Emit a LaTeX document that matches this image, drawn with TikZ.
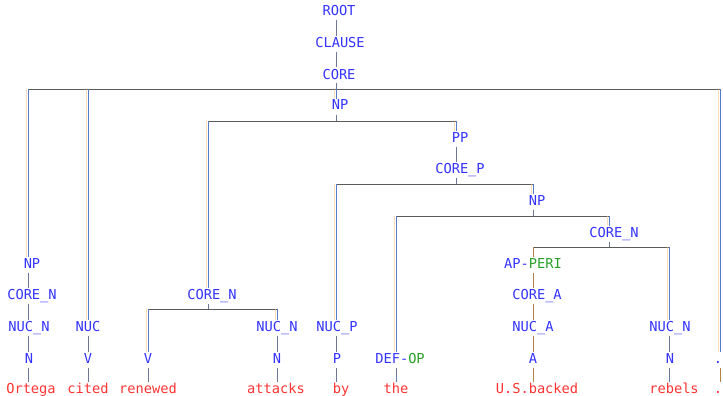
\documentclass[tikz,border=0pt]{standalone}
\usepackage{fontspec}
\newfontfamily\monolab{DejaVu Sans Mono}
\definecolor{lblue}{RGB}{51,51,255}
\definecolor{lgreen}{RGB}{40,160,40}
\definecolor{wred}{RGB}{255,51,51}
\definecolor{vblue}{RGB}{85,125,200}
\definecolor{vorange}{RGB}{250,200,140}
\definecolor{hgrey}{RGB}{90,90,90}
\definecolor{sgrey}{RGB}{110,120,150}
\definecolor{brownl}{RGB}{180,130,70}
\tikzset{
  lab/.style={font=\monolab\fontsize{13.7}{16}\selectfont, text=lblue, inner sep=0pt,
    text height=10pt, text depth=3pt, outer sep=1.5pt},
  word/.style={lab, text=wred},
  hbar/.style={draw=hgrey, line width=0.9pt},
  vline/.style={draw=vblue, line width=1pt,
    preaction={draw=vorange, draw opacity=0.6, line width=0.4pt, transform canvas={xshift=-1.4pt}}},
  link/.style={draw=sgrey, line width=0.9pt},
  blink/.style={draw=brownl, line width=0.9pt},
}
\begin{document}
\begin{tikzpicture}[x=1pt,y=-1pt]
\useasboundingbox (0,0) rectangle (723,396);
% column coordinates
\coordinate (cA) at (28,0);
\coordinate (cB) at (88,0);
\coordinate (cD) at (148,0);
\coordinate (cC) at (208,0);
\coordinate (cE) at (277,0);
\coordinate (cF) at (336,0);
\coordinate (cG) at (396,0);
\coordinate (cP) at (456,0);
\coordinate (cH) at (533,0);
\coordinate (cN) at (609,0);
\coordinate (cI) at (669,0);
\coordinate (cJ) at (720,0);
% bar coordinates
\coordinate (b1) at (336,89);
\coordinate (b2) at (336,121);
\coordinate (b3) at (456,184);
\coordinate (b4) at (533,216);
\coordinate (b5) at (609,247);
\coordinate (b6) at (208,309);
% nodes
\node[lab] (root) at (339,12.5) {ROOT};
\node[lab] (clause) at (340,44.5) {CLAUSE};
\node[lab] (core) at (339,75.5) {CORE};
\node[lab] (np1) at (340,106.5) {NP};
\node[lab] (pp) at (460,138.5) {PP};
\node[lab] (corep) at (460,169.5) {CORE\_P};
\node[lab] (np2) at (537,201.5) {NP};
\node[lab] (coren2) at (614,233.5) {CORE\_N};
\node[lab] (npA) at (32,264.5) {NP};
\node[lab] (apperi) at (533,264.5) {AP-\textcolor{lgreen}{PERI}};
\node[lab] (corenA) at (32,295.5) {CORE\_N};
\node[lab] (corenC) at (212,295.5) {CORE\_N};
\node[lab] (corea) at (537,295.5) {CORE\_A};
\node[lab] (nucnA) at (29,327.5) {NUC\_N};
\node[lab] (nuc) at (88,327.5) {NUC};
\node[lab] (nucnE) at (277,327.5) {NUC\_N};
\node[lab] (nucp) at (337,327.5) {NUC\_P};
\node[lab] (nuca) at (533,327.5) {NUC\_A};
\node[lab] (nucnI) at (670,327.5) {NUC\_N};
\node[lab] (nA) at (29,359.5) {N};
\node[lab] (vB) at (88,359.5) {V};
\node[lab] (vD) at (148,359.5) {V};
\node[lab] (nE) at (277,359.5) {N};
\node[lab] (pF) at (337,359.5) {P};
\node[lab] (defop) at (400,359.5) {DEF-\textcolor{lgreen}{OP}};
\node[lab] (aH) at (533,359.5) {A};
\node[lab] (nI) at (670,359.5) {N};
\node[lab] (dotJ) at (718,359.5) {.};
\node[word] (wA) at (31,389.5) {Ortega};
\node[word] (wB) at (88,389.5) {cited};
\node[word] (wD) at (148,389.5) {renewed};
\node[word] (wE) at (276,389.5) {attacks};
\node[word] (wF) at (341,389.5) {by};
\node[word] (wG) at (396,389.5) {the};
\node[word] (wH) at (537,389.5) {U.S.backed};
\node[word] (wI) at (674,389.5) {rebels};
\node[word] (wJ) at (718,389.5) {.};
% top chain
\draw[link] (root.south -| cF) -- (clause.north -| cF);
\draw[link] (clause.south -| cF) -- (core.north -| cF);
\draw[link] (core.south -| cF) -- (b1);
\draw[hbar] (b1 -| cA) -- (b1 -| cJ);
\draw[vline] (b1 -| cA) -- (npA.north -| cA);
\draw[vline] (b1 -| cB) -- (nuc.north -| cB);
\draw[vline] (b1) -- (np1.north -| cF);
\draw[vline] (b1 -| cJ) -- (dotJ.north -| cJ);
% Ortega
\draw[link] (npA.south -| cA) -- (corenA.north -| cA);
\draw[link] (corenA.south -| cA) -- (nucnA.north -| cA);
\draw[link] (nucnA.south -| cA) -- (nA.north -| cA);
\draw[link] (nA.south -| cA) -- (wA.north -| cA);
% cited
\draw[link] (nuc.south -| cB) -- (vB.north -| cB);
\draw[link] (vB.south -| cB) -- (wB.north -| cB);
% NP
\draw[link] (np1.south -| cF) -- (b2);
\draw[hbar] (b2 -| cC) -- (b2 -| cP);
\draw[vline] (b2 -| cC) -- (corenC.north -| cC);
\draw[vline] (b2 -| cP) -- (pp.north -| cP);
% CORE_N left
\draw[link] (corenC.south -| cC) -- (b6);
\draw[hbar] (b6 -| cD) -- (b6 -| cE);
\draw[vline] (b6 -| cD) -- (vD.north -| cD);
\draw[vline] (b6 -| cE) -- (nucnE.north -| cE);
\draw[link] (vD.south -| cD) -- (wD.north -| cD);
\draw[link] (nucnE.south -| cE) -- (nE.north -| cE);
\draw[link] (nE.south -| cE) -- (wE.north -| cE);
% PP
\draw[link] (pp.south -| cP) -- (corep.north -| cP);
\draw[link] (corep.south -| cP) -- (b3);
\draw[hbar] (b3 -| cF) -- (b3 -| cH);
\draw[vline] (b3 -| cF) -- (nucp.north -| cF);
\draw[vline] (b3 -| cH) -- (np2.north -| cH);
\draw[link] (nucp.south -| cF) -- (pF.north -| cF);
\draw[link] (pF.south -| cF) -- (wF.north -| cF);
% NP2
\draw[link] (np2.south -| cH) -- (b4);
\draw[hbar] (b4 -| cG) -- (b4 -| cN);
\draw[vline] (b4 -| cG) -- (defop.north -| cG);
\draw[vline] (b4 -| cN) -- (coren2.north -| cN);
\draw[link] (defop.south -| cG) -- (wG.north -| cG);
% CORE_N right
\draw[link] (coren2.south -| cN) -- (b5);
\draw[hbar] (b5 -| cH) -- (b5 -| cI);
\draw[blink] (b5 -| cH) -- (apperi.north -| cH);
\draw[vline] (b5 -| cI) -- (nucnI.north -| cI);
\draw[blink] (apperi.south -| cH) -- (corea.north -| cH);
\draw[blink] (corea.south -| cH) -- (nuca.north -| cH);
\draw[blink] (nuca.south -| cH) -- (aH.north -| cH);
\draw[blink] (aH.south -| cH) -- (wH.north -| cH);
\draw[link] (nucnI.south -| cI) -- (nI.north -| cI);
\draw[link] (nI.south -| cI) -- (wI.north -| cI);
\draw[blink] (dotJ.south -| cJ) -- (wJ.north -| cJ);
\end{tikzpicture}
\end{document}
